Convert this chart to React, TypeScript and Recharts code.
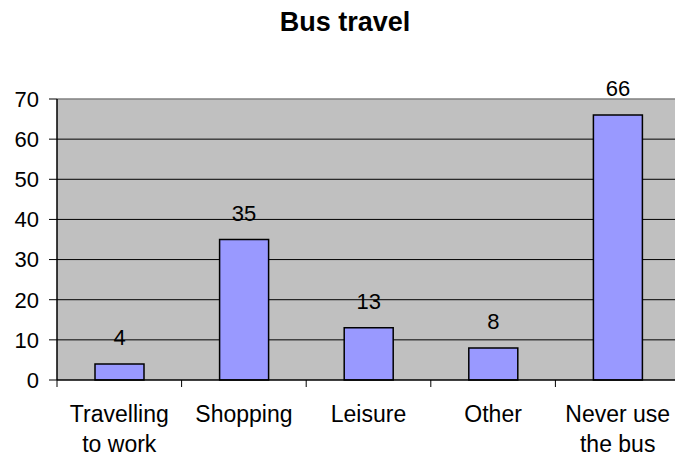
import React from "react";
import {
  Bar,
  BarChart,
  CartesianGrid,
  LabelList,
  ReferenceLine,
  XAxis,
  YAxis,
} from "recharts";

const categories = ["Travelling to work", "Shopping", "Leisure", "Other", "Never use the bus"];
const tickLabels = [["Travelling", "to work"], ["Shopping"], ["Leisure"], ["Other"], ["Never use", "the bus"]];
const values = [4, 35, 13, 8, 66];
const yTicks = [0, 10, 20, 30, 40, 50, 60, 70];

const W = 690;
const H = 458;
const M = { top: 99, right: 10, bottom: 0, left: 0 };
const Y_W = 57;
const FONT = "'Liberation Sans', Arial, sans-serif";

const data = categories.map((c, i) => ({ name: c, value: values[i] }));
const band = (W - M.left - M.right - Y_W) / categories.length;

function XTick(props: any) {
  const { x, y, payload, index } = props;
  const lines = tickLabels[index] ?? [String(payload.value)];
  const left = x - band / 2;
  return (
    <g>
      <line x1={left} x2={left} y1={y} y2={y + 7} stroke="#000" strokeWidth={1} />
      {index === categories.length - 1 && (
        <line x1={x + band / 2} x2={x + band / 2} y1={y} y2={y + 7} stroke="#000" />
      )}
      {lines.map((t: string, i: number) => (
        <text
          key={i}
          x={x}
          y={y + 42 + i * 30}
          textAnchor="middle"
          fontSize={23}
          fontFamily={FONT}
          fill="#000"
        >
          {t}
        </text>
      ))}
    </g>
  );
}

export default function App() {
  return (
    <div
      style={{
        position: "fixed",
        left: 0,
        top: 0,
        width: 675,
        height: 458,
        overflow: "hidden",
        background: "#fff",
      }}
    >
      <div
        style={{
          position: "absolute",
          left: 0,
          top: 9,
          width: 690,
          textAlign: "center",
          fontFamily: FONT,
          fontWeight: "bold",
          fontSize: 27,
          lineHeight: "27px",
          color: "#000",
        }}
      >
        Bus travel
      </div>
      <BarChart width={W} height={H} data={data} margin={M}>
        <CartesianGrid
          vertical={false}
          fill="#C0C0C0"
          stroke="#000"
          horizontalValues={[10, 20, 30, 40, 50, 60]}
        />
        <ReferenceLine y={70} stroke="#808080" strokeWidth={1.5} />
        <XAxis
          dataKey="name"
          interval={0}
          height={H - 380}
          tickSize={0}
          tickMargin={0}
          tickLine={false}
          axisLine={{ stroke: "#000", strokeWidth: 1.5 }}
          tick={<XTick />}
        />
        <YAxis
          domain={[0, 70]}
          ticks={yTicks}
          interval={0}
          width={Y_W}
          tickSize={8}
          tickMargin={10}
          tickLine={{ stroke: "#000" }}
          axisLine={{ stroke: "#000", strokeWidth: 1.5 }}
          tick={{ fill: "#000", fontSize: 22, fontFamily: FONT }}
        />
        <Bar
          dataKey="value"
          barSize={49}
          fill="#9999FF"
          stroke="#000"
          strokeWidth={1.5}
          isAnimationActive={false}
        >
          <LabelList
            dataKey="value"
            position="top"
            offset={19}
            fill="#000"
            fontSize={22}
            fontFamily={FONT}
          />
        </Bar>
      </BarChart>
    </div>
  );
}
